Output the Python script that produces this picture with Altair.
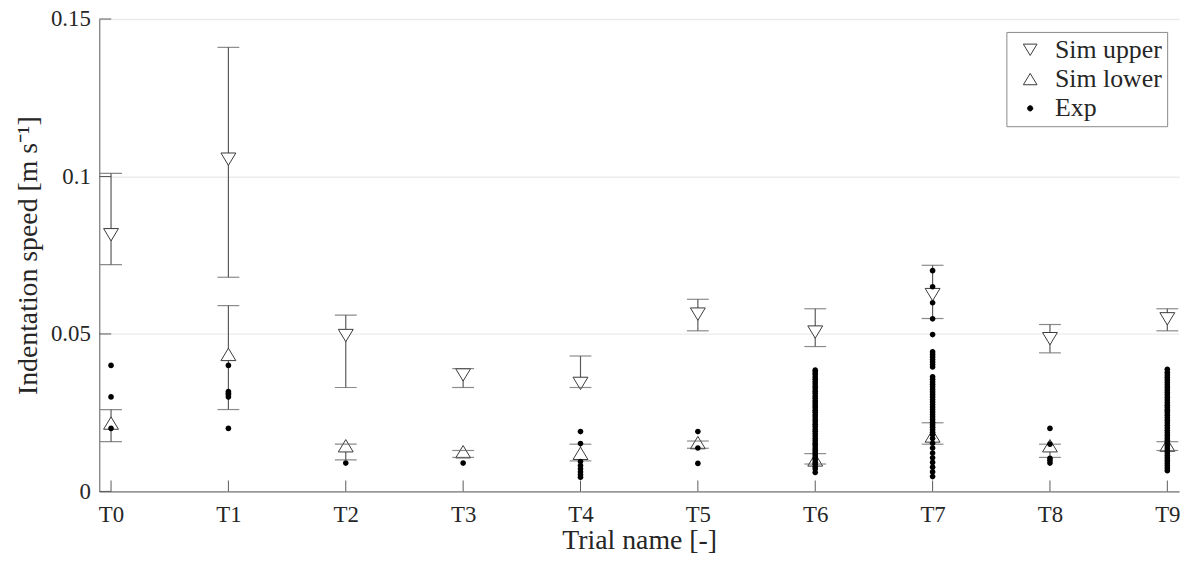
import altair as alt
import pandas as pd

# ---------------- data ----------------
trials = ["T0", "T1", "T2", "T3", "T4", "T5", "T6", "T7", "T8", "T9"]

upper_mid = [0.0815, 0.1055, 0.0495, 0.0370, 0.0343, 0.0563, 0.0506, 0.0625, 0.0485, 0.0548]
upper_hi = [0.101, 0.141, 0.056, 0.039, 0.043, 0.061, 0.058, 0.0718, 0.053, 0.058]
upper_lo = [0.072, 0.068, 0.033, 0.033, 0.033, 0.051, 0.046, 0.0549, 0.044, 0.051]

lower_mid = [0.0217, 0.0435, 0.0145, 0.0126, 0.0121, 0.0155, 0.0100, 0.0176, 0.0145, 0.0147]
lower_hi = [0.026, 0.059, 0.015, 0.013, 0.015, 0.016, 0.012, 0.0218, 0.015, 0.0158]
lower_lo = [0.0158, 0.026, 0.010, 0.0108, 0.0097, 0.0137, 0.0087, 0.015, 0.0108, 0.013]

exp_T0 = [0.040, 0.030, 0.020]
exp_T1 = [0.040, 0.0317, 0.0312, 0.0307, 0.030, 0.020]
exp_T2 = [0.009]
exp_T3 = [0.009]
exp_T4 = [0.019, 0.0152, 0.0095, 0.0082, 0.0072, 0.0062, 0.0053, 0.0045]
exp_T5 = [0.019, 0.0138, 0.0089]
exp_T6 = [0.0385, 0.0378, 0.0371, 0.0363, 0.0356, 0.0348, 0.0341, 0.0333, 0.0326,
          0.0318, 0.0311, 0.0303, 0.0296, 0.0288, 0.0281, 0.0273, 0.0266, 0.0258,
          0.0251, 0.0243, 0.0236, 0.0228, 0.0221, 0.0213, 0.0206, 0.0198, 0.0191,
          0.0183, 0.0176, 0.0168, 0.0161, 0.0153, 0.0146, 0.0138, 0.0131, 0.0123,
          0.0116, 0.0108, 0.0101, 0.0093, 0.0086, 0.0078, 0.0071, 0.0060]
exp_T7 = [0.0701, 0.0650, 0.0599, 0.0548, 0.0498,
          0.0443, 0.0435, 0.0427, 0.0419, 0.0411, 0.0403, 0.0395,
          0.0364, 0.0356, 0.0348, 0.0340, 0.0332, 0.0324, 0.0316, 0.0308, 0.0300,
          0.0292, 0.0284, 0.0276, 0.0268, 0.0260, 0.0252, 0.0244, 0.0236, 0.0228,
          0.0220, 0.0212, 0.0204, 0.0196, 0.0188, 0.0180,
          0.0168, 0.0153, 0.0138, 0.0122, 0.0107, 0.0092, 0.0077, 0.0062, 0.0047]
exp_T8 = [0.020, 0.015, 0.0105, 0.0098, 0.009]
exp_T9 = [0.0388, 0.0378, 0.0370, 0.0362, 0.0354, 0.0346, 0.0338, 0.0330, 0.0322,
          0.0314, 0.0306, 0.0298, 0.0290, 0.0282, 0.0274, 0.0266, 0.0258, 0.0250,
          0.0242, 0.0234, 0.0226, 0.0218, 0.0210, 0.0202, 0.0194, 0.0186, 0.0178,
          0.0170, 0.0162, 0.0154, 0.0146, 0.0138, 0.0130, 0.0122, 0.0114, 0.0106,
          0.0098, 0.0090, 0.0082, 0.0074, 0.0066]
exp_all = [exp_T0, exp_T1, exp_T2, exp_T3, exp_T4, exp_T5, exp_T6, exp_T7, exp_T8, exp_T9]

y_ticks = [0, 0.05, 0.1, 0.15]
series_names = ["Sim upper", "Sim lower", "Exp"]

# ---------------- tables ----------------
sim_rows = []
for i, t in enumerate(trials):
    sim_rows.append(dict(trial=t, series="Sim upper", mid=upper_mid[i], lo=upper_lo[i], hi=upper_hi[i]))
    sim_rows.append(dict(trial=t, series="Sim lower", mid=lower_mid[i], lo=lower_lo[i], hi=lower_hi[i]))
sim = pd.DataFrame(sim_rows)
exp = pd.DataFrame([dict(trial=t, series="Exp", value=v)
                    for t, vals in zip(trials, exp_all) for v in vals])
trial_df = pd.DataFrame({"trial": trials})
ytick_df = pd.DataFrame({"v": y_ticks})

# ---------------- style ----------------
W, H = 1088, 476
FONT = "'Liberation Serif', 'Times New Roman', Times, serif"
AX = "#5a5a5a"
TXT = "#262626"
DOWN = "M-1,-0.83L1,-0.83L0,0.83Z"
UP = "M-1,0.83L1,0.83L0,-0.83Z"
DOT = "M0.38,0A0.38,0.38,0,1,1,-0.38,0A0.38,0.38,0,1,1,0.38,0Z"

x_axis = alt.Axis(title="Trial name [-]", labelAngle=0, ticks=False, grid=False,
                  labelPadding=12, titlePadding=1)
y_axis = alt.Axis(title="Indentation speed [m s\u207b\u00b9]", values=y_ticks,
                  labelExpr="format(datum.value, '.2~f')",
                  ticks=False, grid=True, labelPadding=9, titlePadding=8)
x_scale = alt.Scale(type="point", padding=0.1, domain=trials)
y_scale = alt.Scale(domain=[0, 0.15], nice=False, zero=True)


def X():
    return alt.X("trial:N", scale=x_scale, axis=x_axis)


def Y(field):
    return alt.Y(field, type="quantitative", scale=y_scale, axis=y_axis)


legend = alt.Legend(title=None, orient="none", legendX=914, legendY=13)
shape_enc = alt.Shape("series:N", scale=alt.Scale(domain=series_names, range=[DOWN, UP, DOT]),
                      legend=legend)
fill_enc = alt.Fill("series:N", scale=alt.Scale(domain=series_names, range=["white", "white", "black"]),
                    legend=legend)
stroke_enc = alt.Stroke("series:N", scale=alt.Scale(domain=series_names, range=["#3a3a3a", "#3a3a3a", "black"]),
                        legend=legend)

base_sim = alt.Chart(sim)

bars = base_sim.mark_rule(color=AX, strokeWidth=1.2).encode(
    x=X(), y=Y("lo"), y2=alt.Y2("hi"))

tris = base_sim.mark_point(size=225, strokeWidth=1, opacity=1, filled=True).encode(
    x=X(), y=Y("mid"), shape=shape_enc, fill=fill_enc, stroke=stroke_enc)

cap_hi = base_sim.mark_tick(color=AX, size=22, thickness=1.2).encode(x=X(), y=Y("hi"))
cap_lo = base_sim.mark_tick(color=AX, size=22, thickness=1.2).encode(x=X(), y=Y("lo"))

dots = alt.Chart(exp).mark_point(size=225, strokeWidth=0, opacity=1, filled=True).encode(
    x=X(), y=Y("value"), shape=shape_enc, fill=fill_enc, stroke=stroke_enc)

xticks = alt.Chart(trial_df).mark_rule(color=AX, strokeWidth=1).encode(
    x=X(), y=alt.value(H - 11), y2=alt.value(H))
yticks = alt.Chart(ytick_df).mark_rule(color=AX, strokeWidth=1).encode(
    y=Y("v"), x=alt.value(0), x2=alt.value(12))

chart = alt.layer(bars, tris, cap_hi, cap_lo, xticks, yticks, dots).properties(
    width=W, height=H,
    autosize=alt.AutoSizeParams(type="none"),
    padding={"left": 92, "top": 9, "right": 8, "bottom": 68},
).configure_view(stroke=None).configure_axis(
    domainColor=AX, domainWidth=1,
    labelFont=FONT, labelFontSize=23, labelColor=TXT,
    titleFont=FONT, titleFontSize=28, titleFontWeight="normal", titleColor=TXT,
    gridColor="#ebebeb", gridWidth=1.5,
).configure_legend(
    strokeColor="#8a8a8a", fillColor="white", padding=5, rowPadding=3.5,
    labelFont=FONT, labelFontSize=26, labelColor=TXT,
    symbolSize=190, symbolStrokeWidth=1, symbolOffset=6, labelOffset=12,
    cornerRadius=0,
)

chart.save("out.html", embed_options={"renderer": "svg", "actions": False})
